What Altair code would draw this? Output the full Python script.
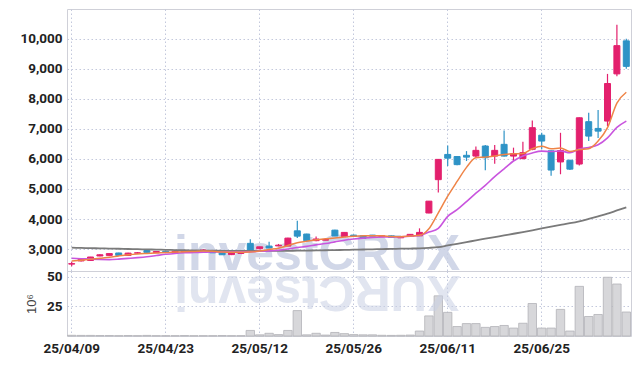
import altair as alt
import pandas as pd

dates = ["25/04/09","25/04/10","25/04/11","25/04/14","25/04/15","25/04/16","25/04/17","25/04/18","25/04/21","25/04/22",
         "25/04/23","25/04/24","25/04/25","25/04/28","25/04/29","25/04/30","25/05/02","25/05/07","25/05/08","25/05/09",
         "25/05/12","25/05/13","25/05/14","25/05/15","25/05/16","25/05/19","25/05/20","25/05/21","25/05/22","25/05/23",
         "25/05/26","25/05/27","25/05/28","25/05/29","25/05/30","25/06/02","25/06/04","25/06/05","25/06/09","25/06/10",
         "25/06/11","25/06/12","25/06/13","25/06/16","25/06/17","25/06/18","25/06/19","25/06/20","25/06/23","25/06/24",
         "25/06/25","25/06/26","25/06/27","25/06/30","25/07/01","25/07/02","25/07/03","25/07/04","25/07/07","25/07/08"]

open_ = [2500, 2605, 2620, 2770, 2790, 2870, 2790, 2865, 2950, 2880,
         2925, 2890, 2895, 2935, 2950, 2930, 2910, 2815, 2855, 3190,
         3010, 3100, 3105, 3100, 3607, 3500, 3280, 3295, 3630, 3420,
         3465, 3440, 3465, 3410, 3440, 3375, 3420, 3440, 4200, 5310,
         6150, 6080, 6120, 6095, 6430, 6095, 6485, 6095, 6010, 6320,
         6790, 6270, 5900, 5955, 5830, 7240, 7015, 7260, 8830, 9930]
high = [2580, 2670, 2740, 2830, 2860, 2880, 2875, 2900, 2960, 2930,
        2935, 2935, 2950, 2945, 2990, 2940, 2920, 2900, 2930, 3330,
        3090, 3240, 3170, 3380, 3940, 3510, 3420, 3330, 3640, 3560,
        3480, 3450, 3470, 3450, 3450, 3420, 3500, 3690, 4600, 5990,
        6450, 6090, 6260, 6410, 6460, 6460, 6950, 6375, 6575, 7280,
        6870, 6280, 6870, 5970, 7380, 7535, 7630, 8830, 10465, 10000]
low = [2430, 2590, 2610, 2760, 2780, 2780, 2780, 2840, 2880, 2870,
       2880, 2880, 2890, 2890, 2940, 2865, 2800, 2800, 2840, 2930,
       3000, 3020, 3090, 3090, 3370, 3270, 3260, 3285, 3420, 3410,
       3410, 3350, 3420, 3400, 3380, 3365, 3410, 3430, 4195, 4880,
       5765, 5790, 5930, 6040, 5620, 5840, 6080, 5930, 5990, 6285,
       6320, 5440, 5490, 5630, 5780, 6600, 6700, 7090, 8750, 9000]
close = [2515, 2660, 2735, 2810, 2850, 2790, 2865, 2875, 2890, 2920,
         2890, 2925, 2940, 2900, 2970, 2875, 2810, 2890, 2910, 2950,
         3075, 3035, 3130, 3365, 3430, 3280, 3335, 3320, 3435, 3555,
         3420, 3360, 3430, 3440, 3390, 3410, 3490, 3555, 4595, 5985,
         6025, 5810, 6060, 6285, 6040, 6285, 6095, 6175, 6210, 7040,
         6595, 5630, 6280, 5660, 7370, 6760, 6925, 8510, 9770, 9080]
volume = [0.6, 0.5, 0.5, 0.4, 0.4, 0.3, 0.4, 0.3, 0.5, 0.3,
          0.3, 0.3, 0.4, 0.3, 0.3, 0.3, 0.4, 0.3, 0.3, 4.7,
          1.0, 2.3, 1.2, 4.7, 21.5, 1.0, 2.3, 0.8, 3.0, 2.0,
          1.2, 1.0, 1.0, 0.6, 0.5, 0.6, 0.8, 4.2, 17.0, 34.0,
          20.0, 8.0, 10.5, 10.5, 7.3, 8.0, 8.9, 6.7, 10.8, 27.5,
          6.7, 6.7, 22.5, 4.2, 42.0, 16.5, 18.2, 49.7, 44.0, 20.3]
ma5 = [2600, 2630, 2665, 2695, 2725, 2770, 2810, 2838, 2854, 2868,
       2888, 2900, 2913, 2918, 2932, 2925, 2905, 2895, 2897, 2900,
       2935, 2985, 3030, 3120, 3210, 3260, 3310, 3340, 3365, 3400,
       3430, 3440, 3445, 3440, 3420, 3410, 3432, 3457, 3675, 4207,
       4760, 5250, 5720, 6040, 6060, 6100, 6150, 6170, 6180, 6340,
       6425, 6340, 6360, 6250, 6310, 6340, 6595, 7040, 7860, 8220]
ma10 = [2695, 2680, 2665, 2655, 2650, 2665, 2690, 2715, 2745, 2785,
        2825, 2855, 2875, 2885, 2895, 2905, 2900, 2902, 2905, 2910,
        2925, 2940, 2960, 3000, 3050, 3090, 3140, 3185, 3240, 3295,
        3335, 3365, 3390, 3400, 3400, 3410, 3425, 3450, 3565, 3690,
        4090, 4310, 4580, 4860, 5120, 5410, 5670, 5930, 6100, 6200,
        6260, 6245, 6265, 6205, 6330, 6380, 6470, 6700, 7050, 7260]
ma60 = [3045, 3038, 3031, 3024, 3017, 3010, 3003, 2996, 2989, 2982,
        2975, 2968, 2961, 2955, 2950, 2946, 2943, 2941, 2940, 2940,
        2940, 2941, 2942, 2943, 2945, 2950, 2955, 2960, 2966, 2972,
        2979, 2986, 2993, 3000, 3006, 3012, 3018, 3025, 3040, 3065,
        3120, 3175, 3230, 3290, 3345, 3400, 3455, 3510, 3565, 3625,
        3690, 3750, 3805, 3860, 3925, 4005, 4090, 4180, 4285, 4390]

price_ticks = [3000, 4000, 5000, 6000, 7000, 8000, 9000, 10000]
volume_ticks = [25, 50]
tick_dates = dates[::10]

df = pd.DataFrame({"date": dates, "open": open_, "high": high, "low": low,
                   "close": close, "volume": volume, "ma5": ma5, "ma10": ma10, "ma60": ma60})

RED = "#e3206d"
BLUE = "#2e93c6"
FONT = "Roboto, 'Liberation Sans', sans-serif"
GRID = "#c3c8dc"
WM = "#cad1e4"

W, HP, HV = 564, 262, 65

xscale = alt.Scale(paddingInner=0, paddingOuter=0)

x_price = alt.X("date:O", sort=dates, scale=xscale,
                axis=alt.Axis(values=tick_dates, labels=False, ticks=False, domain=False,
                              grid=True, title=None, bandPosition=0.5))
yscale = alt.Scale(domain=[2270, 10990], nice=False, zero=False)
yaxis = alt.Axis(values=price_ticks, format=",d", ticks=False, domain=False, grid=True,
                 title=None, labelPadding=5, labelOverlap=False, tickCount=8)


def py(field):
    return alt.Y(f"{field}:Q", scale=yscale, axis=yaxis, title=None)


updown = alt.condition("datum.close >= datum.open", alt.value(RED), alt.value(BLUE))

base = alt.Chart(df)

wick = base.mark_rule(strokeWidth=1.2).encode(
    x=x_price, y=py("low"), y2="high:Q", color=updown)
body = base.mark_bar(size=6, strokeWidth=1).encode(
    x=x_price, y=py("open"), y2="close:Q", fill=updown, stroke=updown)


def ma_line(col, color, width):
    return base.mark_line(color=color, strokeWidth=width, interpolate="monotone").encode(
        x=x_price, y=py(col))


wm_df = pd.DataFrame({"t": ["investCRUX"]})
wm_main = alt.Chart(wm_df).mark_text(
    font="'Liberation Sans', Arial, sans-serif", fontWeight="bold", fontSize=50,
    align="left", baseline="alphabetic", color=WM, opacity=0.85).encode(
    x=alt.value(107), y=alt.value(261), text="t:N")

price = alt.layer(wick, wm_main, body,
                  ma_line("ma60", "#7a7a7a", 1.8),
                  ma_line("ma10", "#c955de", 1.6),
                  ma_line("ma5", "#ef8447", 1.5)).properties(width=W, height=HP)

# mirrored watermark in the volume panel (each glyph turned over)
glyph_w = {"i": 0.278, "n": 0.611, "v": 0.556, "e": 0.556, "s": 0.556, "t": 0.333,
           "C": 0.722, "R": 0.722, "U": 0.722, "X": 0.667}
refl_layers = []
pos = 107.0
for ch in "investCRUX":
    w = glyph_w[ch] * 50
    refl_layers.append(
        alt.Chart(pd.DataFrame({"t": [ch]})).mark_text(
            font="'Liberation Sans', Arial, sans-serif", fontWeight="bold", fontSize=50,
            align="center", baseline="alphabetic", angle=180, color=WM, opacity=0.55).encode(
            x=alt.value(pos + w / 2), y=alt.value(5), text="t:N"))
    pos += w

vol_bars = base.mark_bar(size=8.4, fill="#d7d7da", stroke="#b3b3b7", strokeWidth=0.8).encode(
    x=alt.X("date:O", sort=dates, scale=xscale,
            axis=alt.Axis(values=tick_dates, labelAngle=0, ticks=False, domain=False, grid=True,
                          title=None, labelPadding=5, bandPosition=0.5)),
    y=alt.Y("volume:Q", scale=alt.Scale(domain=[0, 55], nice=False),
            axis=alt.Axis(values=volume_ticks, ticks=False, domain=False, grid=True,
                          title="10⁶", titlePadding=8, titleFontSize=13, titleFontWeight="normal",
                          titleColor="#444", titleFont="'Liberation Sans', Arial, sans-serif",
                          labelPadding=5)))

vol = alt.layer(vol_bars, *refl_layers).properties(width=W, height=HV)

chart = alt.vconcat(price, vol, spacing=0, bounds="flush").properties(
    padding={"left": 11, "top": 0, "right": 2, "bottom": 0}
).configure_view(stroke="#cfd0d8", strokeWidth=1).configure_axis(
    labelFont=FONT, labelFontSize=13.5, labelFontWeight="bold", labelColor="#222",
    gridColor=GRID, gridDash=[1.5, 2.5], gridWidth=1)

chart.save("out.html", embed_options={"renderer": "svg", "actions": False})
